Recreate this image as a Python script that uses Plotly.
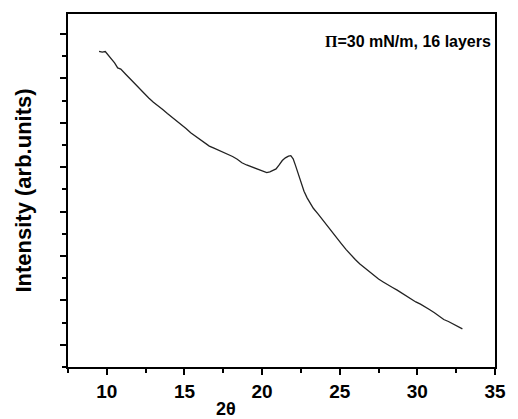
import plotly.graph_objects as go

two_theta = [9.5, 9.7, 9.9, 10.1, 10.3, 10.5, 10.7, 10.9, 11.2, 11.5, 11.8, 12.1, 12.4, 12.7,
             13.0, 13.3, 13.6, 13.9, 14.2, 14.5, 14.8, 15.1, 15.4, 15.7, 16.0, 16.3, 16.6, 16.9,
             17.2, 17.5, 17.8, 18.1, 18.4, 18.7, 19.0, 19.3, 19.6, 19.9, 20.1, 20.3, 20.5, 20.7,
             20.9, 21.1, 21.3, 21.5, 21.7, 21.85, 22.0, 22.15, 22.3, 22.5, 22.7, 22.9, 23.1, 23.3,
             23.6, 23.9, 24.2, 24.5, 24.8, 25.1, 25.4, 25.7, 26.0, 26.3, 26.6, 26.9, 27.2, 27.5,
             27.8, 28.1, 28.4, 28.7, 29.0, 29.3, 29.6, 29.9, 30.2, 30.5, 30.8, 31.1, 31.4, 31.7,
             32.0, 32.3, 32.6, 32.9]
intensity = [14.22, 14.18, 14.21, 14.05, 13.88, 13.70, 13.47, 13.42, 13.20, 12.98, 12.74, 12.52,
             12.33, 12.12, 11.93, 11.78, 11.60, 11.42, 11.26, 11.08, 10.92, 10.74, 10.55, 10.40,
             10.22, 10.06, 9.95, 9.86, 9.77, 9.68, 9.58, 9.48, 9.36, 9.20, 9.10, 9.02, 8.92, 8.85,
             8.82, 8.76, 8.79, 8.85, 8.92, 9.10, 9.30, 9.42, 9.50, 9.52, 9.38, 9.08, 8.75, 8.30,
             7.92, 7.62, 7.36, 7.15, 6.90, 6.63, 6.32, 6.06, 5.80, 5.56, 5.30, 5.06, 4.84, 4.64,
             4.46, 4.28, 4.12, 3.96, 3.83, 3.69, 3.58, 3.46, 3.32, 3.18, 3.04, 2.93, 2.83, 2.72,
             2.58, 2.44, 2.30, 2.14, 2.05, 1.95, 1.83, 1.72]

x_ticks = [10, 15, 20, 25, 30, 35]
x_title = "2θ"
y_title = "Intensity (arb.units)"
label = '<span style="font-family:Liberation Serif">Π</span>=30 mN/m, 16 layers'

FONT = "Liberation Sans"

fig = go.Figure()
fig.add_trace(go.Scatter(x=two_theta, y=intensity, mode="lines",
                         line=dict(color="#222222", width=1.3), showlegend=False))

fig.update_layout(
    width=518, height=419,
    margin=dict(l=68, r=13, t=14, b=52),
    paper_bgcolor="white", plot_bgcolor="white",
    font=dict(family=FONT, color="black"),
    xaxis=dict(range=[7.5, 35], tickvals=x_ticks, ticktext=[f"<b>{v}</b>" for v in x_ticks],
               ticks="outside", ticklen=6, tickwidth=2, tickcolor="black",
               tickfont=dict(size=19, family=FONT, color="black"),
               minor=dict(dtick=2.5, tick0=0, ticks="outside", ticklen=4, tickwidth=2, tickcolor="black"),
               showline=True, linecolor="black", linewidth=2, mirror=True,
               showgrid=False, zeroline=False),
    yaxis=dict(range=[0, 15.9], tick0=1, dtick=2, showticklabels=False,
               ticks="outside", ticklen=6, tickwidth=2, tickcolor="black",
               minor=dict(dtick=1, tick0=0, ticks="outside", ticklen=4, tickwidth=2, tickcolor="black"),
               showline=True, linecolor="black", linewidth=2, mirror=True,
               showgrid=False, zeroline=False,
               title=dict(text=f"<b>{y_title}</b>", font=dict(size=22, family=FONT, color="black"),
                          standoff=22)),
    annotations=[
        dict(text=f"<b>{label}</b>", xref="paper", yref="paper", x=(503 - 68) / 437,
             y=(367 - 42) / 353, xanchor="right", yanchor="middle", showarrow=False,
             font=dict(size=16, family=FONT, color="black")),
        dict(text=f"<b>{x_title}</b>", xref="paper", yref="paper", x=(230 - 68) / 437,
             y=-(397 - 367) / 353, xanchor="center", yanchor="top", showarrow=False,
             font=dict(size=18, family=FONT, color="black")),
    ],
)

fig.write_html("out.html")
